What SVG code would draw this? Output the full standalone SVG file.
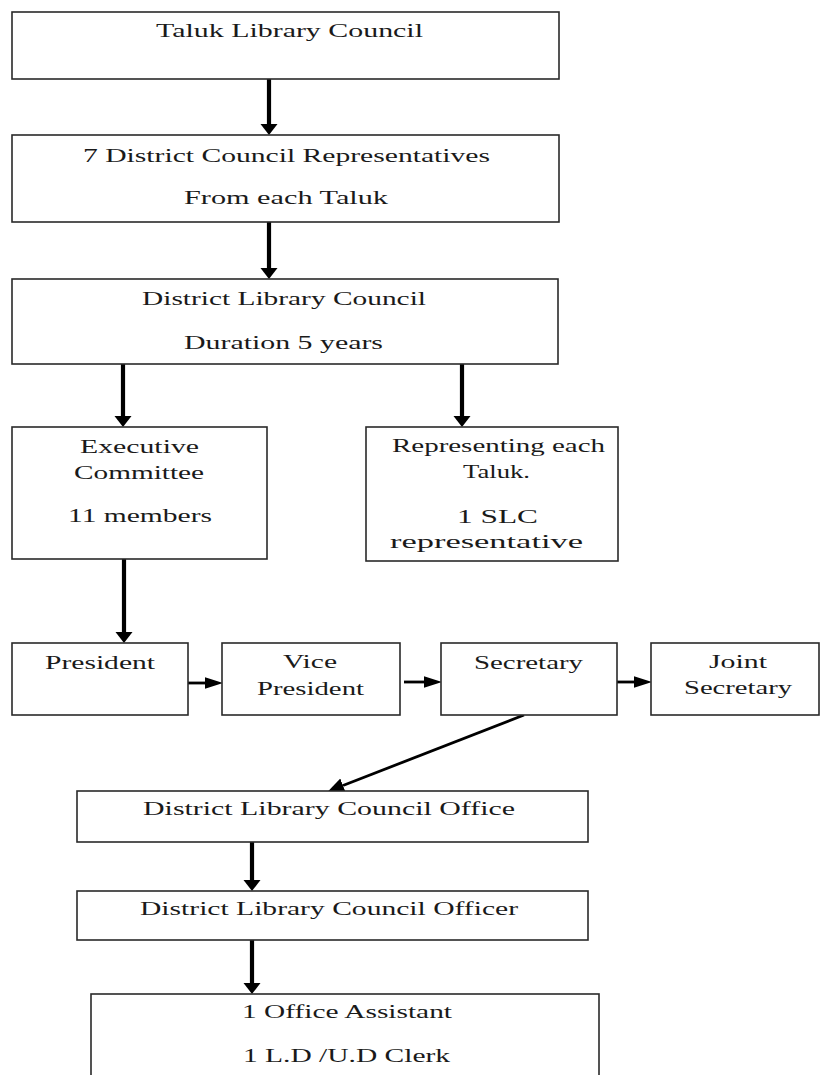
<svg xmlns="http://www.w3.org/2000/svg" width="820" height="1075" viewBox="0 0 820 1075">
<style>
.box{fill:#fff;stroke:#2a2a2a;stroke-width:1.6}
.t{font-family:"Liberation Serif","Times New Roman",serif;font-size:19px;fill:#1a1a1a;text-anchor:middle}
.v{stroke:#000;stroke-width:4.2;fill:none}
.h{stroke:#000;stroke-width:2.8;fill:none}
</style>
<defs>
<marker id="mv" markerUnits="userSpaceOnUse" markerWidth="12" markerHeight="18" refX="0" refY="8.5" viewBox="0 0 12 17" orient="auto"><path d="M0,0 L11,8.5 L0,17 Z" fill="#000"/></marker>
<marker id="mh" markerUnits="userSpaceOnUse" markerWidth="18" markerHeight="12" refX="0" refY="5.5" viewBox="0 0 17 11" orient="auto"><path d="M0,0 L17,5.5 L0,11 Z" fill="#000"/></marker>
<marker id="md" markerUnits="userSpaceOnUse" markerWidth="16" markerHeight="16" refX="0" refY="7" viewBox="0 0 15 14" orient="auto"><path d="M0,0 L15,7 L0,14 Z" fill="#000"/></marker>
</defs>
<rect width="820" height="1075" fill="#fff"/>
<g id="connectors">
<line class="v" x1="269" y1="79" x2="269" y2="124" marker-end="url(#mv)"/>
<line class="v" x1="269" y1="222" x2="269" y2="268" marker-end="url(#mv)"/>
<line class="v" x1="123" y1="364" x2="123" y2="416" marker-end="url(#mv)"/>
<line class="v" x1="462" y1="364" x2="462" y2="416" marker-end="url(#mv)"/>
<line class="v" x1="124" y1="559" x2="124" y2="632" marker-end="url(#mv)"/>
<line class="h" x1="185" y1="683" x2="205" y2="683" marker-end="url(#mh)"/>
<line class="h" x1="404" y1="682" x2="424" y2="682" marker-end="url(#mh)"/>
<line class="h" x1="614" y1="682" x2="634" y2="682" marker-end="url(#mh)"/>
<line class="h" x1="524" y1="715" x2="343" y2="785.5" marker-end="url(#md)"/>
<line class="v" x1="252" y1="842" x2="252" y2="880" marker-end="url(#mv)"/>
<line class="v" x1="252" y1="940" x2="252" y2="983" marker-end="url(#mv)"/>
</g>
<g id="taluk-library-council">
<rect class="box" x="12" y="12" width="547" height="67"/>
<text class="t" x="289.5" y="37" textLength="267" lengthAdjust="spacingAndGlyphs">Taluk Library Council</text>
</g>
<g id="district-council-representatives">
<rect class="box" x="12" y="135" width="547" height="87"/>
<text class="t" x="286.5" y="162" textLength="407" lengthAdjust="spacingAndGlyphs">7 District Council Representatives</text>
<text class="t" x="286" y="204" textLength="204" lengthAdjust="spacingAndGlyphs">From each Taluk</text>
</g>
<g id="district-library-council">
<rect class="box" x="12" y="279" width="546" height="85"/>
<text class="t" x="284" y="305" textLength="284" lengthAdjust="spacingAndGlyphs">District Library Council</text>
<text class="t" x="283.5" y="349" textLength="199" lengthAdjust="spacingAndGlyphs">Duration 5 years</text>
</g>
<g id="executive-committee">
<rect class="box" x="12" y="427" width="255" height="132"/>
<text class="t" x="139.5" y="453" textLength="119" lengthAdjust="spacingAndGlyphs">Executive</text>
<text class="t" x="139" y="479" textLength="130" lengthAdjust="spacingAndGlyphs">Committee</text>
<text class="t" x="140" y="522" textLength="144" lengthAdjust="spacingAndGlyphs">11 members</text>
</g>
<g id="representing-each-taluk">
<rect class="box" x="366" y="427" width="252" height="134"/>
<text class="t" x="498.5" y="452" textLength="213" lengthAdjust="spacingAndGlyphs">Representing each</text>
<text class="t" x="496.5" y="478" textLength="67" lengthAdjust="spacingAndGlyphs">Taluk.</text>
<text class="t" x="497.5" y="523" textLength="81" lengthAdjust="spacingAndGlyphs">1 SLC</text>
<text class="t" x="486.5" y="548" textLength="193" lengthAdjust="spacingAndGlyphs">representative</text>
</g>
<g id="president">
<rect class="box" x="12" y="643" width="176" height="72"/>
<text class="t" x="100" y="669" textLength="110" lengthAdjust="spacingAndGlyphs">President</text>
</g>
<g id="vice-president">
<rect class="box" x="222" y="643" width="178" height="72"/>
<text class="t" x="310" y="668" textLength="54" lengthAdjust="spacingAndGlyphs">Vice</text>
<text class="t" x="310.5" y="695" textLength="107" lengthAdjust="spacingAndGlyphs">President</text>
</g>
<g id="secretary">
<rect class="box" x="441" y="643" width="176" height="72"/>
<text class="t" x="528.5" y="669" textLength="109" lengthAdjust="spacingAndGlyphs">Secretary</text>
</g>
<g id="joint-secretary">
<rect class="box" x="651" y="643" width="168" height="72"/>
<text class="t" x="738" y="668" textLength="58" lengthAdjust="spacingAndGlyphs">Joint</text>
<text class="t" x="738" y="694" textLength="108" lengthAdjust="spacingAndGlyphs">Secretary</text>
</g>
<g id="district-library-council-office">
<rect class="box" x="77" y="791" width="511" height="51"/>
<text class="t" x="329" y="815" textLength="372" lengthAdjust="spacingAndGlyphs">District Library Council Office</text>
</g>
<g id="district-library-council-officer">
<rect class="box" x="77" y="891" width="511" height="49"/>
<text class="t" x="329" y="915" textLength="378" lengthAdjust="spacingAndGlyphs">District Library Council Officer</text>
</g>
<g id="office-staff">
<rect class="box" x="91" y="994" width="508" height="100"/>
<text class="t" x="347" y="1018" textLength="210" lengthAdjust="spacingAndGlyphs">1 Office Assistant</text>
<text class="t" x="346.5" y="1062" textLength="207" lengthAdjust="spacingAndGlyphs">1 L.D /U.D Clerk</text>
</g>
</svg>
